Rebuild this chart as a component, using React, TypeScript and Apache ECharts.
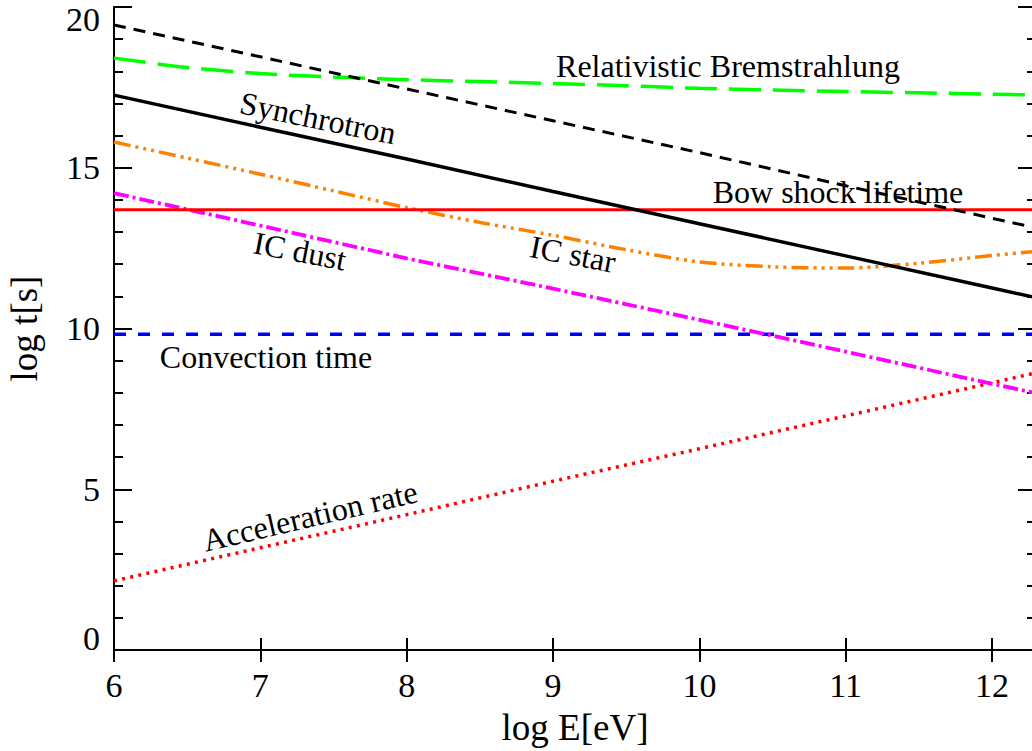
import React, { useEffect, useRef } from "react";
import * as echarts from "echarts";

// ---- data ----
const logE = [6, 7, 8, 9, 10, 11, 12, 12.3];
const logEFine = [6, 6.5, 7, 7.5, 8, 8.5, 9, 9.5, 10, 10.5, 11, 11.5, 12, 12.3];
const logEFlat = [6, 12.3];

const bremsDashed = [19.44, 18.45, 17.45, 16.46, 15.47, 14.44, 13.43, 13.13];
const relBrems = [18.41, 18.12, 17.93, 17.82, 17.74, 17.68, 17.62, 17.55, 17.47, 17.42, 17.37, 17.33, 17.29, 17.26];
const synchrotron = [17.26, 16.26, 15.27, 14.26, 13.26, 12.26, 11.26, 10.96];
const icStar = [15.8, 15.3, 14.8, 14.28, 13.76, 13.3, 12.9, 12.45, 12.07, 11.92, 11.88, 12.03, 12.27, 12.4];
const icDust = [14.21, 13.2, 12.18, 11.24, 10.27, 9.28, 8.28, 7.99];
const bowShock = [13.69, 13.69];
const convection = [9.82, 9.82];
const acceleration = [2.15, 3.18, 4.21, 5.25, 6.26, 7.28, 8.31, 8.62];

const xTicks = [6, 7, 8, 9, 10, 11, 12];
const yTicks = [0, 5, 10, 15, 20];

const annotationTexts = [
  "Relativistic Bremstrahlung",
  "Synchrotron",
  "Bow shock lifetime",
  "IC dust",
  "IC star",
  "Convection time",
  "Acceleration rate",
];

const FONT = "'Liberation Serif', 'Times New Roman', serif";

function zip(xs: number[], ys: number[]) {
  return xs.map((x, i) => [x, ys[i]]);
}

export default function App() {
  const ref = useRef<HTMLDivElement>(null);

  useEffect(() => {
    if (!ref.current) return;
    const chart = echarts.init(ref.current, undefined, { renderer: "svg" });

    const axisLine = { show: true, lineStyle: { color: "#000", width: 2 } };
    const tickStyle = { color: "#000", width: 2 };

    const xFormatter = (v: number) => (xTicks.includes(v) ? String(v) : "");
    const yFormatter = (v: number) => {
      if (!yTicks.includes(v)) return "";
      if (v === 20) return "{t|20}";
      if (v === 0) return "{b|0}";
      return String(v);
    };

    const line = (
      xs: number[],
      ys: number[],
      color: string,
      width: number,
      type: any,
      smooth: number | boolean = false
    ) => ({
      type: "line",
      data: zip(xs, ys),
      symbol: "none",
      showSymbol: false,
      smooth,
      silent: true,
      lineStyle: { color, width, type, cap: "butt" },
    });

    const labelStyle = (text: string) => ({
      text,
      x: 0,
      y: 0,
      fontSize: 32,
      fontFamily: FONT,
      fill: "#000",
      align: "center",
      verticalAlign: "middle",
    });

    const positions: [number, number, number][] = [
      [728, 66, 0],
      [318, 118, -0.2],
      [838, 192, 0],
      [300, 251, -0.19],
      [573, 254, -0.19],
      [266, 357, 0],
      [310, 516, 0.23],
    ];

    chart.setOption({
      animation: false,
      backgroundColor: "#fff",
      grid: {
        left: 114,
        right: -4,
        top: 7,
        bottom: 101,
        containLabel: false,
        outerBoundsMode: "none",
      },
      xAxis: [
        {
          type: "value",
          min: 6,
          max: 12.3,
          interval: 1,
          position: "bottom",
          axisLine,
          axisTick: { show: true, inside: true, length: 12, lineStyle: tickStyle },
          axisLabel: {
            fontSize: 34,
            fontFamily: FONT,
            color: "#000",
            margin: 18,
            formatter: xFormatter,
          },
          splitLine: { show: false },
          name: "log E[eV]",
          nameLocation: "middle",
          nameGap: 59,
          nameTextStyle: { fontSize: 37, fontFamily: FONT, color: "#000" },
        },
        {
          type: "value",
          min: 6,
          max: 12.3,
          interval: 1,
          position: "top",
          axisLine,
          axisTick: { show: true, inside: true, length: 12, lineStyle: tickStyle },
          axisLabel: { show: false },
          splitLine: { show: false },
        },
      ],
      yAxis: [
        {
          type: "value",
          min: 0,
          max: 20,
          interval: 5,
          position: "left",
          axisLine,
          axisTick: { show: true, inside: true, length: 18, lineStyle: tickStyle },
          minorTick: { show: true, splitNumber: 5, length: 9, lineStyle: tickStyle },
          axisLabel: {
            fontSize: 34,
            fontFamily: FONT,
            color: "#000",
            margin: 14,
            formatter: yFormatter,
            rich: {
              t: { fontSize: 34, fontFamily: FONT, color: "#000", padding: [24, 0, 0, 0] },
              b: { fontSize: 34, fontFamily: FONT, color: "#000", padding: [0, 0, 24, 0] },
            },
          },
          splitLine: { show: false },
          minorSplitLine: { show: false },
          name: "log t[s]",
          nameLocation: "middle",
          nameGap: 71,
          nameRotate: 90,
          nameTextStyle: { fontSize: 37, fontFamily: FONT, color: "#000" },
        },
        {
          type: "value",
          min: 0,
          max: 20,
          interval: 5,
          position: "right",
          axisLine,
          axisTick: { show: true, inside: true, length: 18, lineStyle: tickStyle },
          minorTick: { show: true, splitNumber: 5, length: 9, lineStyle: tickStyle },
          axisLabel: { show: false },
          splitLine: { show: false },
          minorSplitLine: { show: false },
        },
      ],
      series: [
        line(logEFlat, convection, "#0000ff", 3.5, [12, 12]),
        line(logE, acceleration, "#ff0000", 3.5, [3, 5.3]),
        line(logE, icDust, "#ff00ff", 3.8, [15, 4, 3, 4]),
        line(logEFine, icStar, "#ff8000", 3.5, [17, 5, 3, 5, 3, 5, 3, 5], 0.3),
        line(logEFlat, bowShock, "#ff0000", 3, "solid"),
        line(logE, synchrotron, "#000000", 3.5, "solid"),
        line(logEFine, relBrems, "#00ff00", 3.5, [32, 12], 0.3),
        line(logE, bremsDashed, "#000000", 3, [12, 8]),
      ],
      graphic: annotationTexts.map((text, i) => ({
        type: "text",
        x: positions[i][0],
        y: positions[i][1],
        rotation: positions[i][2],
        silent: true,
        z: 100,
        style: labelStyle(text),
      })),
    });

    return () => {
      chart.dispose();
    };
  }, []);

  return (
    <div
      ref={ref}
      style={{ position: "fixed", left: 0, top: 0, width: 1032, height: 751, background: "#fff" }}
    />
  );
}
